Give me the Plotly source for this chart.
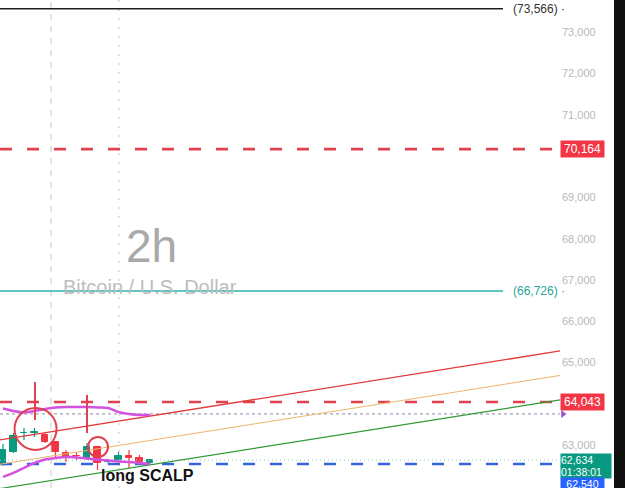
import plotly.graph_objects as go

# ---------------- data ----------------
candle_idx = list(range(15))
opens  = [62517, 62832, 63280, 63290, 63243, 63074, 62808, 62745, 62687, 62953, 62600, 62638, 62735, 62687, 62570]
highs  = [63025, 63291, 63413, 63413, 63291, 63090, 62880, 62832, 63050, 62977, 62660, 62832, 62880, 62760, 62660]
lows   = [62490, 62808, 63122, 63195, 63050, 62687, 62590, 62638, 62638, 62396, 62560, 62620, 62445, 62517, 62545]
closes = [62880, 63218, 63300, 63305, 63074, 62832, 62711, 62730, 62953, 62566, 62620, 62735, 62690, 62600, 62634]

bb_upper = [63885, 63824, 63788, 63824, 63873, 63909, 63921, 63921, 63921, 63909, 63897, 63800, 63752, 63728, 63728]
bb_lower = [62227, 62324, 62444, 62566, 62650, 62687, 62711, 62699, 62674, 62650, 62626, 62602, 62590, 62566, 62541]

level_high = 73566      # (73,566)
level_mid = 66726       # (66,726)
resist_1 = 70164
resist_2 = 64043
support = 62540
last_price = 62634
countdown = "01:38:01"
avg_line = 63752

# channel (price at start / end)
chan_x = [-0.29, 53.05]
chan_top = [63122, 65277]
chan_bot = [61946, 64091]
chan_mid = [(a + b) / 2 for a, b in zip(chan_top, chan_bot)]

y_ticks = [73000, 72000, 71000, 69000, 68000, 67000, 66000, 65000, 63000]

# ---------------- layout helpers ----------------
W, H = 625, 488
X0, X1 = -0.286, 59.24
Y0, Y1 = 61959, 73775
PPU = (Y1 - Y0) / H  # price units per pixel


def px2x(px):
    return X0 + (X1 - X0) * px / W


def py2y(py):
    return Y1 - py * PPU


RED = "#f23645"
TEAL = "#089981"
PURPLE = "#d452e0"
FONT = "Liberation Sans, Arial"

fig = go.Figure()

# vertical session separators
fig.add_trace(go.Scatter(x=[px2x(51), px2x(51)], y=[Y0, Y1], mode="lines",
                         line=dict(color="#c9c9c9", width=1, dash="6px,6px"), hoverinfo="skip"))
fig.add_trace(go.Scatter(x=[px2x(119), px2x(119)], y=[Y0, Y1], mode="lines",
                         line=dict(color="#c9d2d2", width=1.3, dash="2px,7px"), hoverinfo="skip"))

# watermark
fig.add_annotation(x=px2x(151), y=py2y(246), xref="x", yref="y", text="2h",
                   showarrow=False, font=dict(size=46, color="#a9a9a9", family=FONT))
fig.add_annotation(x=px2x(150), y=py2y(287), xref="x", yref="y", text="Bitcoin / U.S. Dollar",
                   showarrow=False, font=dict(size=20, color="#bdbdbd", family=FONT))

# candle bodies (bar layer, below lines)
up = [c >= o for o, c in zip(opens, closes)]
fig.add_trace(go.Bar(x=candle_idx, y=[abs(c - o) for o, c in zip(opens, closes)],
                     base=[min(o, c) for o, c in zip(opens, closes)], width=0.62,
                     marker=dict(color=[TEAL if u else RED for u in up],
                                 line=dict(color=[TEAL if u else RED for u in up], width=1)),
                     hoverinfo="skip"))

# horizontal levels
fig.add_trace(go.Scatter(x=[X0, px2x(503)], y=[level_high, level_high], mode="lines",
                         line=dict(color="#1e1e1e", width=1.5), hoverinfo="skip"))
fig.add_trace(go.Scatter(x=[X0, px2x(503)], y=[level_mid, level_mid], mode="lines",
                         line=dict(color="#2bb3ab", width=1.5), hoverinfo="skip"))
for lv, col in [(resist_1, "#e0414f"), (resist_2, "#e0414f"), (support, "#3565dc")]:
    fig.add_trace(go.Scatter(x=[X0, px2x(552)], y=[lv, lv], mode="lines",
                             line=dict(color=col, width=2.6, dash="12px,15px"), hoverinfo="skip"))
fig.add_trace(go.Scatter(x=[X0, px2x(560)], y=[avg_line, avg_line], mode="lines",
                         line=dict(color="#8d84a8", width=1, dash="3px,3px"), hoverinfo="skip"))
fig.add_trace(go.Scatter(x=[px2x(563)], y=[avg_line], mode="markers",
                         marker=dict(symbol="triangle-right", size=7, color="#9b4fd6"), hoverinfo="skip"))
fig.add_trace(go.Scatter(x=[X0, px2x(560)], y=[last_price, last_price], mode="lines",
                         line=dict(color="#8ccdc2", width=1, dash="1px,3px"), hoverinfo="skip"))

# wicks
for want, col in [(True, TEAL), (False, RED)]:
    wx, wy = [], []
    for i, u in zip(candle_idx, up):
        if u == want:
            wx += [i, i, None]
            wy += [lows[i], highs[i], None]
    fig.add_trace(go.Scatter(x=wx, y=wy, mode="lines", line=dict(color=col, width=1.2), hoverinfo="skip"))

# channel
fig.add_trace(go.Scatter(x=chan_x, y=chan_top, mode="lines", line=dict(color="#e23b3b", width=1.3), hoverinfo="skip"))
fig.add_trace(go.Scatter(x=chan_x, y=chan_mid, mode="lines", line=dict(color="#eeb56c", width=1), hoverinfo="skip"))
fig.add_trace(go.Scatter(x=chan_x, y=chan_bot, mode="lines", line=dict(color="#2f9a35", width=1.3), hoverinfo="skip"))

# bollinger bands
fig.add_trace(go.Scatter(x=candle_idx, y=bb_upper, mode="lines", line=dict(color=PURPLE, width=2.5, shape="spline"), hoverinfo="skip"))
fig.add_trace(go.Scatter(x=candle_idx, y=bb_lower, mode="lines", line=dict(color=PURPLE, width=2.5, shape="spline"), hoverinfo="skip"))

# drawings: circles and vertical marks
fig.add_shape(type="circle", xref="x", yref="y", x0=1.1, x1=5.1, y0=62880, y1=63896,
              line=dict(color="#e0414f", width=2))
fig.add_shape(type="circle", xref="x", yref="y", x0=8.1, x1=10.0, y0=62711, y1=63195,
              line=dict(color="#e0414f", width=2))
fig.add_shape(type="line", xref="x", yref="y", x0=3.05, x1=3.05, y0=63606, y1=64526,
              line=dict(color="#e0414f", width=2))
fig.add_shape(type="line", xref="x", yref="y", x0=8.0, x1=8.0, y0=63292, y1=64212,
              line=dict(color="#e0414f", width=2))

fig.add_annotation(x=px2x(147), y=py2y(475), xref="x", yref="y", text="<b>long SCALP</b>",
                   showarrow=False, font=dict(size=16, color="#111", family=FONT))

# price axis labels
for v in y_ticks:
    fig.add_annotation(x=598 / W, y=v, xref="paper", yref="y", text=f"{v:,}", xanchor="right",
                       showarrow=False, font=dict(size=11, color="#b8b8b8", family=FONT))

fig.add_annotation(x=511 / W, y=level_high, xref="paper", yref="y", text=f"({level_high:,}) ·", xanchor="left",
                   showarrow=False, font=dict(size=12, color="#333", family=FONT))
fig.add_annotation(x=511 / W, y=level_mid, xref="paper", yref="y", text=f"({level_mid:,}) ·", xanchor="left",
                   showarrow=False, font=dict(size=12, color="#26a69a", family=FONT))

for v, col in [(resist_1, RED), (resist_2, RED)]:
    fig.add_annotation(x=560 / W, y=v, xref="paper", yref="y", text=f"{v:,}", xanchor="left",
                       showarrow=False, bgcolor=col, borderpad=1, width=41,
                       font=dict(size=12, color="white", family=FONT))
# last price box (two rows)
fig.add_annotation(x=560 / W, y=py2y(453), xref="paper", yref="y", text=f"{last_price:,}", align="left",
                   xanchor="left", yanchor="top", showarrow=False, bgcolor=TEAL, borderpad=0, width=50, height=12,
                   font=dict(size=10.5, color="white", family=FONT))
fig.add_annotation(x=560 / W, y=py2y(465), xref="paper", yref="y", text=countdown, align="left",
                   xanchor="left", yanchor="top", showarrow=False, bgcolor=TEAL, borderpad=0, width=50, height=12,
                   font=dict(size=10.5, color="white", family=FONT))
fig.add_annotation(x=560 / W, y=py2y(477), xref="paper", yref="y", text=f"{support:,}", xanchor="left",
                   yanchor="top", showarrow=False, bgcolor="#2962ff", borderpad=0, width=43, height=11,
                   font=dict(size=10.5, color="white", family=FONT))

# dark side panel
fig.add_shape(type="rect", xref="paper", yref="paper", x0=614 / W, x1=1.0, y0=0, y1=1,
              fillcolor="#101010", line=dict(width=0), layer="above")

fig.update_layout(
    width=W, height=H, margin=dict(l=0, r=0, t=0, b=0),
    paper_bgcolor="white", plot_bgcolor="white", showlegend=False, bargap=0,
    xaxis=dict(range=[X0, X1], visible=False, fixedrange=True),
    yaxis=dict(range=[Y0, Y1], visible=False, fixedrange=True),
)

fig.write_html("out.html")
